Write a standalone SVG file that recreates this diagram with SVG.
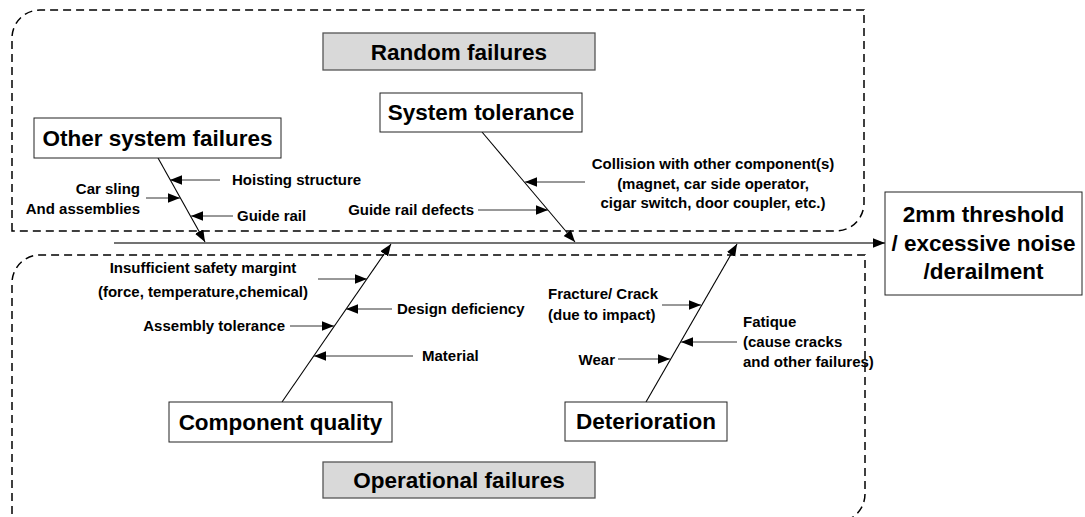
<svg xmlns="http://www.w3.org/2000/svg" width="1085" height="517" viewBox="0 0 1085 517">
<style>
.region{fill:none;stroke:#000;stroke-width:1.5;stroke-dasharray:8,5}
.box{fill:#fff;stroke:#222;stroke-width:1}
.gbox{fill:#d9d9d9;stroke:#555;stroke-width:1.3}
.big{font-family:"Liberation Sans",Arial,sans-serif;font-weight:bold;font-size:22.5px;fill:#000;text-anchor:middle}
.sm{font-family:"Liberation Sans",Arial,sans-serif;font-weight:bold;font-size:15px;fill:#000}
.bone{stroke:#000;stroke-width:1.1;fill:none;marker-end:url(#ah)}
.cause{stroke:#333;stroke-width:1;fill:none;marker-end:url(#ah)}
.spine{stroke:#444;stroke-width:1.3;fill:none;marker-end:url(#ah)}
</style>
<defs>
<marker id="ah" markerUnits="userSpaceOnUse" markerWidth="13" markerHeight="10" refX="12" refY="4.75" orient="auto">
<path d="M0,0 L12,4.75 L0,9.5 Z" fill="#000"/>
</marker>
</defs>
<rect width="1085" height="517" fill="#fff"/>
<g id="region-random">
<path class="region" d="M12,231 L12,38 A28,28 0 0 1 40,10 L864,10 L864,203 A28,28 0 0 1 836,231 Z"/>
</g>
<g id="region-operational">
<path class="region" d="M12,540 L12,283 A28,28 0 0 1 40,255 L865,255 L865,494 A28,28 0 0 1 837,522"/>
</g>
<g id="connectors">
<line class="spine" x1="114" y1="243" x2="885" y2="243"/>
<line class="bone" x1="158" y1="158" x2="205" y2="242"/>
<line class="bone" x1="482" y1="132" x2="575" y2="242"/>
<line class="bone" x1="282" y1="402" x2="391" y2="244"/>
<line class="bone" x1="646" y1="402" x2="737" y2="244"/>
<line class="cause" x1="220" y1="180" x2="170" y2="180"/>
<line class="cause" x1="146" y1="198" x2="180" y2="198"/>
<line class="cause" x1="233" y1="216" x2="191" y2="216"/>
<line class="cause" x1="585" y1="182" x2="525" y2="182"/>
<line class="cause" x1="478" y1="210" x2="548" y2="210"/>
<line class="cause" x1="318" y1="279" x2="367" y2="279"/>
<line class="cause" x1="392" y1="309" x2="346" y2="309"/>
<line class="cause" x1="290" y1="326" x2="334" y2="326"/>
<line class="cause" x1="413" y1="356" x2="314" y2="356"/>
<line class="cause" x1="662" y1="305" x2="701" y2="305"/>
<line class="cause" x1="737" y1="342" x2="681" y2="342"/>
<line class="cause" x1="618" y1="359" x2="670" y2="359"/>
</g>
<g id="random-failures">
<rect class="gbox" x="323" y="33" width="272" height="37"/>
<text class="big" x="459" y="60">Random failures</text>
</g>
<g id="system-tolerance">
<rect class="box" x="380" y="93" width="202" height="39"/>
<text class="big" x="481" y="120">System tolerance</text>
</g>
<g id="other-system-failures">
<rect class="box" x="34" y="118" width="247" height="40"/>
<text class="big" x="157.5" y="146">Other system failures</text>
</g>
<g id="component-quality">
<rect class="box" x="169" y="402" width="223" height="40"/>
<text class="big" x="280.5" y="430">Component quality</text>
</g>
<g id="deterioration">
<rect class="box" x="565" y="402" width="162" height="39"/>
<text class="big" x="646" y="429">Deterioration</text>
</g>
<g id="operational-failures">
<rect class="gbox" x="323" y="462" width="272" height="36"/>
<text class="big" x="459" y="488">Operational failures</text>
</g>
<g id="result">
<rect class="box" x="885" y="192" width="197" height="103"/>
<text class="big" x="983.5" y="221.5">2mm threshold</text>
<text class="big" x="983.5" y="250.5">/ excessive noise</text>
<text class="big" x="983.5" y="279">/derailment</text>
</g>
<g id="labels">
<text class="sm" x="232" y="185">Hoisting structure</text>
<text class="sm" x="140" y="194" text-anchor="end">Car sling</text>
<text class="sm" x="140" y="214" text-anchor="end">And assemblies</text>
<text class="sm" x="237" y="221">Guide rail</text>
<text class="sm" x="474" y="215" text-anchor="end">Guide rail defects</text>
<text class="sm" x="713" y="169" text-anchor="middle">Collision with other component(s)</text>
<text class="sm" x="713" y="189" text-anchor="middle">(magnet, car side operator,</text>
<text class="sm" x="713" y="208" text-anchor="middle">cigar switch, door coupler, etc.)</text>
<text class="sm" x="203" y="273" text-anchor="middle">Insufficient safety margint</text>
<text class="sm" x="203" y="297" text-anchor="middle">(force, temperature,chemical)</text>
<text class="sm" x="397" y="314">Design deficiency</text>
<text class="sm" x="285" y="331" text-anchor="end">Assembly tolerance</text>
<text class="sm" x="422" y="361">Material</text>
<text class="sm" x="548" y="299">Fracture/ Crack</text>
<text class="sm" x="548" y="320">(due to impact)</text>
<text class="sm" x="743" y="327">Fatique</text>
<text class="sm" x="743" y="347">(cause cracks</text>
<text class="sm" x="743" y="367">and other failures)</text>
<text class="sm" x="615" y="365" text-anchor="end">Wear</text>
</g>
</svg>
